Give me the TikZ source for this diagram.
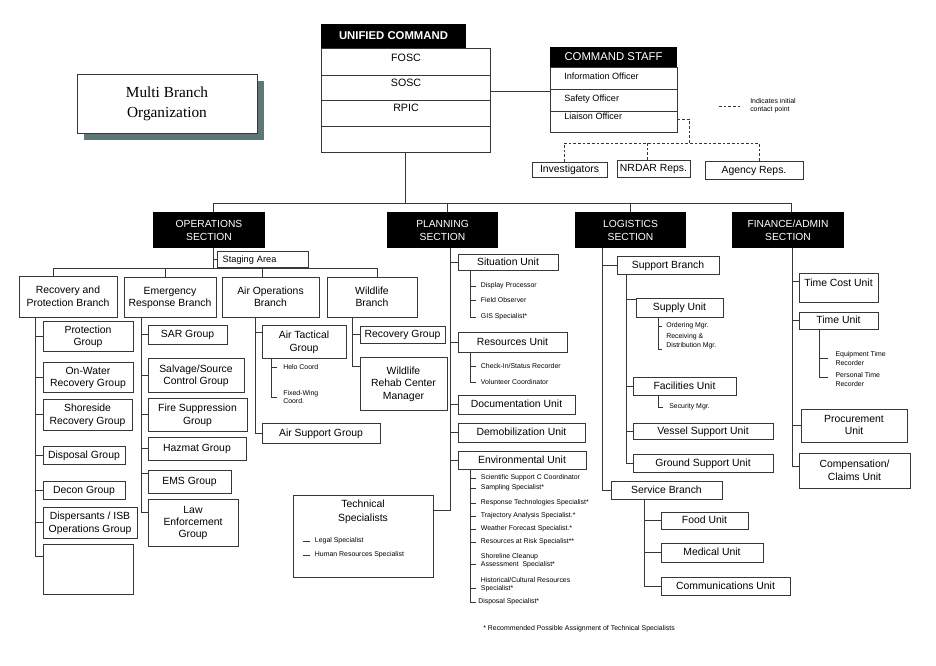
\documentclass[tikz,border=0pt]{standalone}
\usepackage{fontspec}
\setmainfont{Liberation Sans}
\newfontfamily\serifM{Liberation Serif}
\usetikzlibrary{shadows}
\definecolor{shadowc}{RGB}{95,120,118}
\definecolor{linec}{RGB}{55,55,55}
\tikzset{
  ln/.style={draw=linec, line width=0.6pt},
  dsh/.style={draw=linec, line width=0.6pt, dash pattern=on 2pt off 1.5pt},
  box/.style={draw=linec, line width=0.6pt, fill=white, align=center, inner sep=0.5pt,
    font=\fontsize{7.8}{9.2}\selectfont, text depth=0.6pt,
    general shadow={shadow xshift=0.6pt, shadow yshift=-0.6pt, fill=black!45}},
  plainbox/.style={draw=linec, line width=0.6pt, fill=white, inner sep=0pt},
  hdr/.style={fill=black, text=white, align=center, inner sep=0.5pt, font=\fontsize{7.7}{9.8}\selectfont},
  sm/.style={anchor=west, inner xsep=3.5pt, inner ysep=0.3pt, align=left, font=\fontsize{5.2}{6.6}\selectfont},
  txt/.style={inner sep=0.5pt, align=center},
  mb/.style={draw=linec, line width=0.6pt, fill=white, align=center, inner sep=0pt,
    font=\serifM\fontsize{11.5}{15}\selectfont,
    general shadow={shadow xshift=5.2pt, shadow yshift=-5.2pt, fill=shadowc}},
}
\newcommand{\bx}[7][box]{\node[#1, minimum width={(#5-#3)*0.75pt}, minimum height={(#6-#4)*0.75pt}] (#2) at ({(#3+#5)/2},{(#4+#6)/2}) {#7};}
\begin{document}
\begin{tikzpicture}[x=0.75pt,y=-0.75pt]
\useasboundingbox (0,0) rectangle (936,665);

% ---------- Multi Branch Organization
\bx[mb]{mbo}{77}{74}{257}{133}{Multi Branch\\Organization}

% ---------- Unified Command
\bx[plainbox]{uc1}{321}{48}{490}{75}{}
\bx[plainbox]{uc2}{321}{75}{490}{100}{}
\bx[plainbox]{uc3}{321}{100}{490}{126}{}
\bx[plainbox]{uc4}{321}{126}{490}{152}{}
\bx[hdr,font=\bfseries\fontsize{8.5}{10}\selectfont]{uch}{321}{24}{466}{48}{UNIFIED COMMAND}
\node[txt, font=\fontsize{8}{9}\selectfont] (fosc) at (406,58) {FOSC};
\node[txt, font=\fontsize{8}{9}\selectfont] (sosc) at (406,83) {SOSC};
\node[txt, font=\fontsize{8}{9}\selectfont] (rpic) at (406,108) {RPIC};

% ---------- Command Staff
\bx[plainbox]{cs1}{550}{67}{677}{89}{}
\bx[plainbox]{cs2}{550}{89}{677}{111}{}
\bx[plainbox]{cs3}{550}{111}{677}{132}{}
\bx[hdr,font=\fontsize{8.5}{10}\selectfont]{csh}{550}{47}{677}{67}{COMMAND STAFF}
\node[anchor=west, inner sep=0pt, font=\fontsize{6.8}{8}\selectfont] (io) at (564,76) {Information Officer};
\node[anchor=west, inner sep=0pt, font=\fontsize{6.8}{8}\selectfont] (so) at (564,99) {Safety Officer};
\node[anchor=west, inner sep=0pt, font=\fontsize{6.8}{8}\selectfont] (lo) at (564,116) {Liaison Officer};
\path ([yshift=-2.6pt]uc2.east) coordinate (ucr);
\draw[ln] (ucr) -- (ucr -| cs2.west);

% ---------- contact points
\bx{inv}{532}{162}{607}{177}{Investigators}
\bx{nrd}{617}{160}{690}{177}{NRDAR Reps.}
\bx{agy}{705}{161}{803}{179}{Agency Reps.}
\coordinate (dj) at (689,143);
\path ([yshift=1.9pt]cs3.east) coordinate (lsr);
\path ([xshift=-4.1pt]inv.north) coordinate (invT);
\path ([xshift=-4.9pt]nrd.north) coordinate (nrdT);
\path ([xshift=3.8pt]agy.north) coordinate (agyT);
\draw[dsh] (lsr) -| (dj);
\draw[dsh] (invT) |- (agyT |- dj) -- (agyT);
\draw[dsh] (nrdT) -- (nrdT |- dj);
\coordinate (lg1) at (719,106);
\coordinate (lg2) at (741,106);
\draw[dsh] (lg1) -- (lg2);
\node[sm, inner sep=0pt, font=\fontsize{5.2}{6}\selectfont] (lgt) at (750,106) {Indicates initial\\contact point};

% ---------- Sections
\bx[hdr]{ops}{153}{212}{265}{248}{OPERATIONS\\SECTION}
\bx[hdr]{pl}{387}{212}{498}{248}{PLANNING\\SECTION}
\bx[hdr]{lg}{575}{212}{686}{248}{LOGISTICS\\SECTION}
\bx[hdr]{fin}{732}{212}{844}{248}{FINANCE/ADMIN\\SECTION}
\coordinate (busL) at (213,203);
\coordinate (busR) at (791,203);
\coordinate (busP) at (447,203);
\coordinate (busG) at (630,203);
\draw[ln] (busL) -- (busR);
\draw[ln] (uc4.south) -- (uc4.south |- busL);
\draw[ln] (busL) -- (busL |- ops.north);
\draw[ln] (busP) -- (busP |- pl.north);
\draw[ln] (busG) -- (busG |- lg.north);
\draw[ln] (busR) -- (busR |- fin.north);

% ---------- Operations
\node[box, align=left, font=\fontsize{6.9}{8}\selectfont, minimum height=12pt, text width=60.25pt, inner xsep=4pt, anchor=north west] (sa) at (217,251) {Staging Area};
\coordinate (ob) at (213,268);
\draw[ln] (busL |- ops.south) -- (ob);
\draw[ln] (busL |- sa.west) -- (sa.west);
\bx{rpb}{19}{276}{117}{317}{Recovery and\\Protection Branch}
\bx{erb}{124}{277}{216}{317}{Emergency\\Response Branch}
\bx{aob}{222}{277}{319}{317}{Air Operations\\Branch}
\bx{wb}{327}{277}{417}{317}{Wildlife\\Branch}
\coordinate (ob1) at (53,268);
\coordinate (ob2) at (165,268);
\coordinate (ob3) at (262,268);
\coordinate (ob4) at (377,268);
\draw[ln] (ob1) -- (ob4);
\draw[ln] (ob1) -- (ob1 |- rpb.north);
\draw[ln] (ob2) -- (ob2 |- erb.north);
\draw[ln] (ob3) -- (ob3 |- aob.north);
\draw[ln] (ob4) -- (ob4 |- wb.north);

% Recovery and Protection
\bx{pg}{43}{321}{133}{351}{Protection\\Group}
\bx{owg}{43}{362}{133}{392}{On-Water\\Recovery Group}
\bx{srg}{43}{399}{132}{430}{Shoreside\\Recovery Group}
\bx{dg}{43}{446}{125}{464}{Disposal Group}
\bx{dcg}{43}{481}{125}{499}{Decon Group}
\bx{dig}{43}{507}{137}{538}{Dispersants / ISB\\Operations Group}
\bx{emp}{43}{544}{133}{594}{}
\coordinate (s1) at (35,317);
\foreach \c in {pg,owg,srg,dg,dcg,dig} \draw[ln] (s1) |- (\c.west);
\path ([yshift=-9.75pt]emp.north west) coordinate (empT);
\draw[ln] (s1) |- (empT);

% Emergency Response
\bx{sar}{148}{325}{227}{344}{SAR Group}
\bx{ssg}{148}{358}{244}{392}{Salvage/Source\\Control Group}
\bx{fsg}{148}{398}{247}{431}{Fire Suppression\\Group}
\bx{hz}{148}{437}{246}{460}{Hazmat Group}
\bx{ems}{148}{470}{231}{493}{EMS Group}
\bx{leg}{148}{499}{238}{546}{Law\\Enforcement\\Group}
\coordinate (s2) at (141,317);
\foreach \c in {sar,ssg,fsg,hz} \draw[ln] (s2) |- (\c.west);
\path ([yshift=-2.5pt]ems.north west) coordinate (emsT);
\path ([yshift=-10.5pt]leg.north west) coordinate (legT);
\draw[ln] (s2) |- (emsT);
\draw[ln] (s2) |- (legT);

% Air Operations
\bx{atg}{262}{325}{346}{358}{Air Tactical\\Group}
\bx{asg}{262}{423}{380}{443}{Air Support Group}
\coordinate (s3) at (255,317);
\path ([yshift=-6pt]atg.north west) coordinate (atgT);
\draw[ln] (s3) |- (atgT);
\draw[ln] (s3) |- (asg.west);
\coordinate (s3b) at (271,358);
\node[sm, inner xsep=4.5pt] (helo) at (277,367) {Helo Coord};
\node[sm, inner xsep=4.5pt, font=\fontsize{5.2}{6}\selectfont] (fwc) at (277,397) {Fixed-Wing\\Coord.};
\draw[ln] (s3b) |- (helo.west);
\draw[ln] (s3b) |- (fwc.west);

% Wildlife
\bx{rg}{360}{326}{445}{343}{Recovery Group}
\bx{wrc}{360}{357}{447}{410}{Wildlife\\Rehab Center\\Manager}
\coordinate (s4) at (352,317);
\draw[ln] (s4) |- (rg.west);
\path ([yshift=-7.5pt]wrc.north west) coordinate (wrcT);
\draw[ln] (s4) |- (wrcT);

% ---------- Planning
\bx{su}{458}{254}{558}{270}{Situation Unit}
\bx{ru}{458}{332}{567}{352}{Resources Unit}
\bx{du}{458}{395}{575}{414}{Documentation Unit}
\bx{dmu}{458}{423}{585}{442}{Demobilization Unit}
\bx{eu}{458}{451}{586}{469}{Environmental Unit}
\bx[plainbox]{ts}{293}{495}{433}{577}{}
\node[txt, font=\fontsize{7.8}{10.5}\selectfont] (tst) at (363,512) {Technical\\Specialists};
\node[sm] (lsp) at (310,541) {Legal Specialist};
\node[sm] (hrs) at (310,555) {Human Resources Specialist};
\draw[ln] (lsp.west) -- ++(-7,0);
\draw[ln] (hrs.west) -- ++(-7,0);
\coordinate (s5) at (450,248);
\foreach \c in {su,ru,du,dmu,eu} \draw[ln] (s5) |- (\c.west);
\path ([yshift=-12pt]ts.north east) coordinate (tsC);
\draw[ln] (s5) |- (tsC);

\coordinate (s5a) at (470,270);
\node[sm] (dp) at (476,286) {Display Processor};
\node[sm] (fo) at (476,300) {Field Observer};
\node[sm] (gis) at (476,317) {GIS Specialist*};
\foreach \c in {dp,fo,gis} \draw[ln] (s5a) |- (\c.west);

\coordinate (s5b) at (470,352);
\node[sm] (cis) at (476,366) {Check-In/Status Recorder};
\node[sm] (vc) at (476,382) {Volunteer Coordinator};
\foreach \c in {cis,vc} \draw[ln] (s5b) |- (\c.west);

\coordinate (s5c) at (470,469);
\node[sm] (e1) at (476,478) {Scientific Support C Coordinator};
\node[sm] (e2) at (476,488) {Sampling Specialist*};
\node[sm] (e3) at (476,503) {Response Technologies Specialist*};
\node[sm] (e4) at (476,516) {Trajectory Analysis Specialist.*};
\node[sm] (e5) at (476,529) {Weather Forecast Specialist.*};
\node[sm] (e6) at (476,542) {Resources at Risk Specialist**};
\node[sm, font=\fontsize{5.2}{5.6}\selectfont] (e7) at (476,560.5) {Shoreline Cleanup\\Assessment\ \ Specialist*};
\node[sm, font=\fontsize{5.2}{5.6}\selectfont] (e8) at (476,584.5) {Historical/Cultural Resources\\Specialist*};
\node[sm, inner xsep=1.5pt] (e9) at (476,602) {Disposal Specialist*};
\foreach \c in {e1,e2,e3,e4,e5,e6,e9} \draw[ln] (s5c) |- (\c.west);
\path ([yshift=-2.6pt]e7.west) coordinate (e7T);
\path ([yshift=-2.6pt]e8.west) coordinate (e8T);
\draw[ln] (s5c) |- (e7T);
\draw[ln] (s5c) |- (e8T);
\node[sm, inner sep=0pt] (fn) at (483,629) {* Recommended Possible Assignment of Technical Specialists};

% ---------- Logistics
\bx{sb}{617}{256}{719}{274}{Support Branch}
\bx{su2}{636}{298}{723}{317}{Supply Unit}
\bx{fu}{633}{377}{736}{395}{Facilities Unit}
\bx{vsu}{633}{423}{773}{439}{Vessel Support Unit}
\bx{gsu}{633}{454}{773}{472}{Ground Support Unit}
\bx{svb}{611}{481}{722}{499}{Service Branch}
\bx{fdu}{661}{512}{748}{529}{Food Unit}
\bx{mu}{661}{543}{763}{562}{Medical Unit}
\bx{cu}{661}{577}{790}{595}{Communications Unit}
\coordinate (s6) at (602,248);
\draw[ln] (s6) |- (sb.west);
\draw[ln] (s6) |- (svb.west);
\coordinate (s6a) at (626,274);
\path ([yshift=-1.5pt]su2.north west) coordinate (su2T);
\draw[ln] (s6a) |- (su2T);
\foreach \c in {fu,vsu,gsu} \draw[ln] (s6a) |- (\c.west);
\coordinate (s6b) at (658,317);
\node[sm, inner xsep=3pt] (om) at (662,326) {Ordering Mgr.};
\node[sm, inner xsep=3pt, font=\fontsize{5.2}{6.7}\selectfont] (rd) at (662,341.5) {Receiving \&\\Distribution Mgr.};
\draw[ln] (s6b) |- (om.west);
\draw[ln] (s6b) |- (rd.south west);
\coordinate (s6c) at (658,395);
\node[sm, inner xsep=4.5pt] (smg) at (663,407) {Security Mgr.};
\draw[ln] (s6c) |- (smg.west);
\coordinate (s6d) at (644,499);
\foreach \c in {fdu,mu,cu} \draw[ln] (s6d) |- (\c.west);

% ---------- Finance
\bx{tcu}{799}{273}{878}{302}{}
\node[txt, font=\fontsize{7.8}{9.2}\selectfont] (tcut) at (838.5,283) {Time Cost Unit};
\bx{tu}{799}{312}{878}{329}{Time Unit}
\bx{pu}{801}{409}{907}{442}{Procurement\\Unit}
\bx{ccu}{799}{453}{910}{488}{Compensation/\\Claims Unit}
\coordinate (s7) at (792,248);
\path ([yshift=-6.75pt]tcu.north west) coordinate (tcuT);
\path ([yshift=-10.5pt]ccu.north west) coordinate (ccuT);
\draw[ln] (s7) |- (tcuT);
\draw[ln] (s7) |- (tu.west);
\draw[ln] (s7) |- (pu.west);
\draw[ln] (s7) |- (ccuT);
\coordinate (s7a) at (819,329);
\node[sm, inner xsep=5.5pt, font=\fontsize{5.2}{6.7}\selectfont] (etr) at (828,358.5) {Equipment Time\\Recorder};
\node[sm, inner xsep=5.5pt, font=\fontsize{5.2}{6.7}\selectfont] (ptr) at (828,379.5) {Personal Time\\Recorder};
\draw[ln] (s7a) |- (etr.west);
\draw[ln] (s7a) |- ([yshift=1.8pt]ptr.west);
\end{tikzpicture}
\end{document}
